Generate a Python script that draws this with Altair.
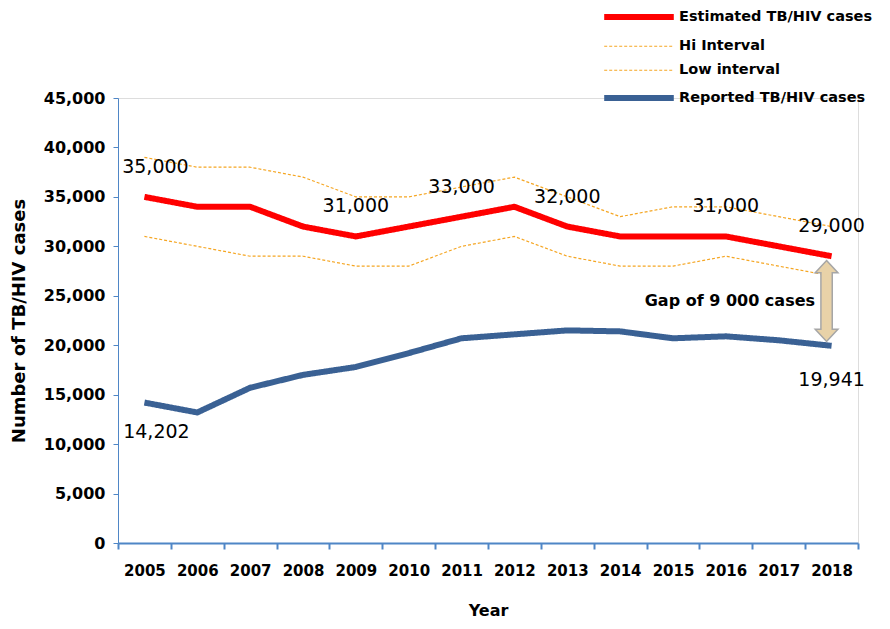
import altair as alt
import pandas as pd

years = [str(y) for y in range(2005, 2019)]
estimated = [35000, 34000, 34000, 32000, 31000, 32000, 33000, 34000, 32000, 31000, 31000, 31000, 30000, 29000]
hi_interval = [39000, 38000, 38000, 37000, 35000, 35000, 36000, 37000, 35000, 33000, 34000, 34000, 33000, 32000]
low_interval = [31000, 30000, 29000, 29000, 28000, 28000, 30000, 31000, 29000, 28000, 28000, 29000, 28000, 27000]
reported = [14202, 13200, 15700, 17000, 17800, 19200, 20700, 21100, 21500, 21400, 20700, 20900, 20500, 19941]

series_names = ["Estimated TB/HIV cases", "Hi Interval", "Low interval", "Reported TB/HIV cases"]
series_colors = ["#FF0000", "#F5A623", "#F5A623", "#3A6194"]
series_widths = [6, 1.2, 1.2, 6]
series_dash = [[1, 0], [3, 2], [3, 2], [1, 0]]

est_label_years = ["2009", "2011", "2013", "2016", "2018"]
est_first_year = ["2005"]
rep_label_years = ["2018"]
rep_first_year = ["2005"]
gap_text = "Gap of  9 000 cases"

FONT = "DejaVu Sans"
AXIS_COLOR = "#4F86C6"

rows = []
for name, vals in zip(series_names, [estimated, hi_interval, low_interval, reported]):
    for i, (y, v) in enumerate(zip(years, vals)):
        rows.append({"year": y, "value": v, "series": name, "order": i})
df = pd.DataFrame(rows)

est_map = dict(zip(years, estimated))
rep_map = dict(zip(years, reported))

def lab_df(yrs, m):
    return pd.DataFrame({"year": yrs, "value": [m[y] for y in yrs],
                         "label": [f"{m[y]:,}" for y in yrs]})

x_scale = alt.Scale(type="band", domain=years, paddingInner=0, paddingOuter=0)
y_scale = alt.Scale(domain=[0, 45000])

def X(title=None, axis=None):
    if axis is None:
        return alt.X("year:O", scale=x_scale, bandPosition=0.5)
    return alt.X("year:O", scale=x_scale, bandPosition=0.5, title=title, axis=axis)

Y_axis = alt.Axis(values=list(range(0, 45001, 5000)), format=",.0f", grid=False,
                  domainColor=AXIS_COLOR, tickColor=AXIS_COLOR, tickSize=5,
                  labelFont=FONT, labelFontWeight="bold", labelFontSize=16, labelColor="#000000",
                  labelPadding=8, titleFont=FONT, titleFontWeight="bold", titleFontSize=18,
                  titleColor="#000000", titlePadding=15)
X_axis = alt.Axis(labelAngle=0, tickBand="extent", domainColor=AXIS_COLOR, tickColor=AXIS_COLOR,
                  tickSize=6, domainWidth=2, tickWidth=2,
                  labelFont=FONT, labelFontWeight="bold", labelFontSize=15, labelColor="#000000",
                  labelPadding=14, titleFont=FONT, titleFontWeight="bold", titleFontSize=16,
                  titleColor="#000000", titlePadding=24)

legend = alt.Legend(orient="none", legendX=512, legendY=-90, symbolType="M-5.8,0L5.8,0",
                    symbolSize=144, labelOffset=31, labelFont=FONT, labelFontWeight="bold",
                    labelFontSize=14.5, labelColor="#000000", rowPadding=9, padding=0,
                    labelLimit=400)

lines = alt.Chart(df).mark_line(strokeJoin="round", strokeCap="butt").encode(
    x=X("Year", X_axis),
    y=alt.Y("value:Q", scale=y_scale, title="Number of TB/HIV cases", axis=Y_axis),
    color=alt.Color("series:N", title=None,
                    scale=alt.Scale(type="ordinal", domain=series_names, range=series_colors),
                    legend=legend),
    strokeWidth=alt.StrokeWidth("series:N", title=None,
                                scale=alt.Scale(type="ordinal", domain=series_names, range=series_widths),
                                legend=legend),
    strokeDash=alt.StrokeDash("series:N", title=None,
                              scale=alt.Scale(type="ordinal", domain=series_names, range=series_dash),
                              legend=legend),
    order="order:Q",
)

def text_layer(d, dx, dy):
    return alt.Chart(d).mark_text(font=FONT, fontSize=19, color="#000000", dx=dx, dy=dy).encode(
        x=X(), y=alt.Y("value:Q", scale=y_scale), text="label:N")

t1 = text_layer(lab_df(est_label_years, est_map), 0, -30)
t2 = text_layer(lab_df(est_first_year, est_map), 11, -30)
t3 = text_layer(lab_df(rep_label_years, rep_map), 0, 34)
t4 = text_layer(lab_df(rep_first_year, rep_map), 12, 29)

last = years[-1]
mid = (est_map[last] + rep_map[last]) / 2
arrow_df = pd.DataFrame({"year": [last], "value": [mid]})
arrow_path = ("M0,-1L0.28,-0.7L0.14,-0.7L0.14,0.7L0.28,0.7L0,1L-0.28,0.7L-0.14,0.7"
              "L-0.14,-0.7L-0.28,-0.7Z")
arrow = alt.Chart(arrow_df).mark_point(shape=arrow_path, size=6560, filled=True,
                                       fill="#E8D2A8", stroke="#A6A6A6", strokeWidth=1.5,
                                       opacity=1, xOffset=-5).encode(
    x=X(), y=alt.Y("value:Q", scale=y_scale))

gap_df = pd.DataFrame({"year": [years[-3]], "value": [mid], "label": [gap_text]})
gap = alt.Chart(gap_df).mark_text(font=FONT, fontSize=16, fontWeight="bold", color="#000000",
                                  dx=4).encode(
    x=X(), y=alt.Y("value:Q", scale=y_scale), text="label:N")

chart = alt.layer(lines, t1, t2, t3, t4, arrow, gap).properties(
    width=740, height=445, padding={"left": 2, "top": 0, "right": 0, "bottom": 0}
).configure_view(stroke=None).configure(background="#FFFFFF")

chart.save("out.html", embed_options={"renderer": "svg", "actions": False})
